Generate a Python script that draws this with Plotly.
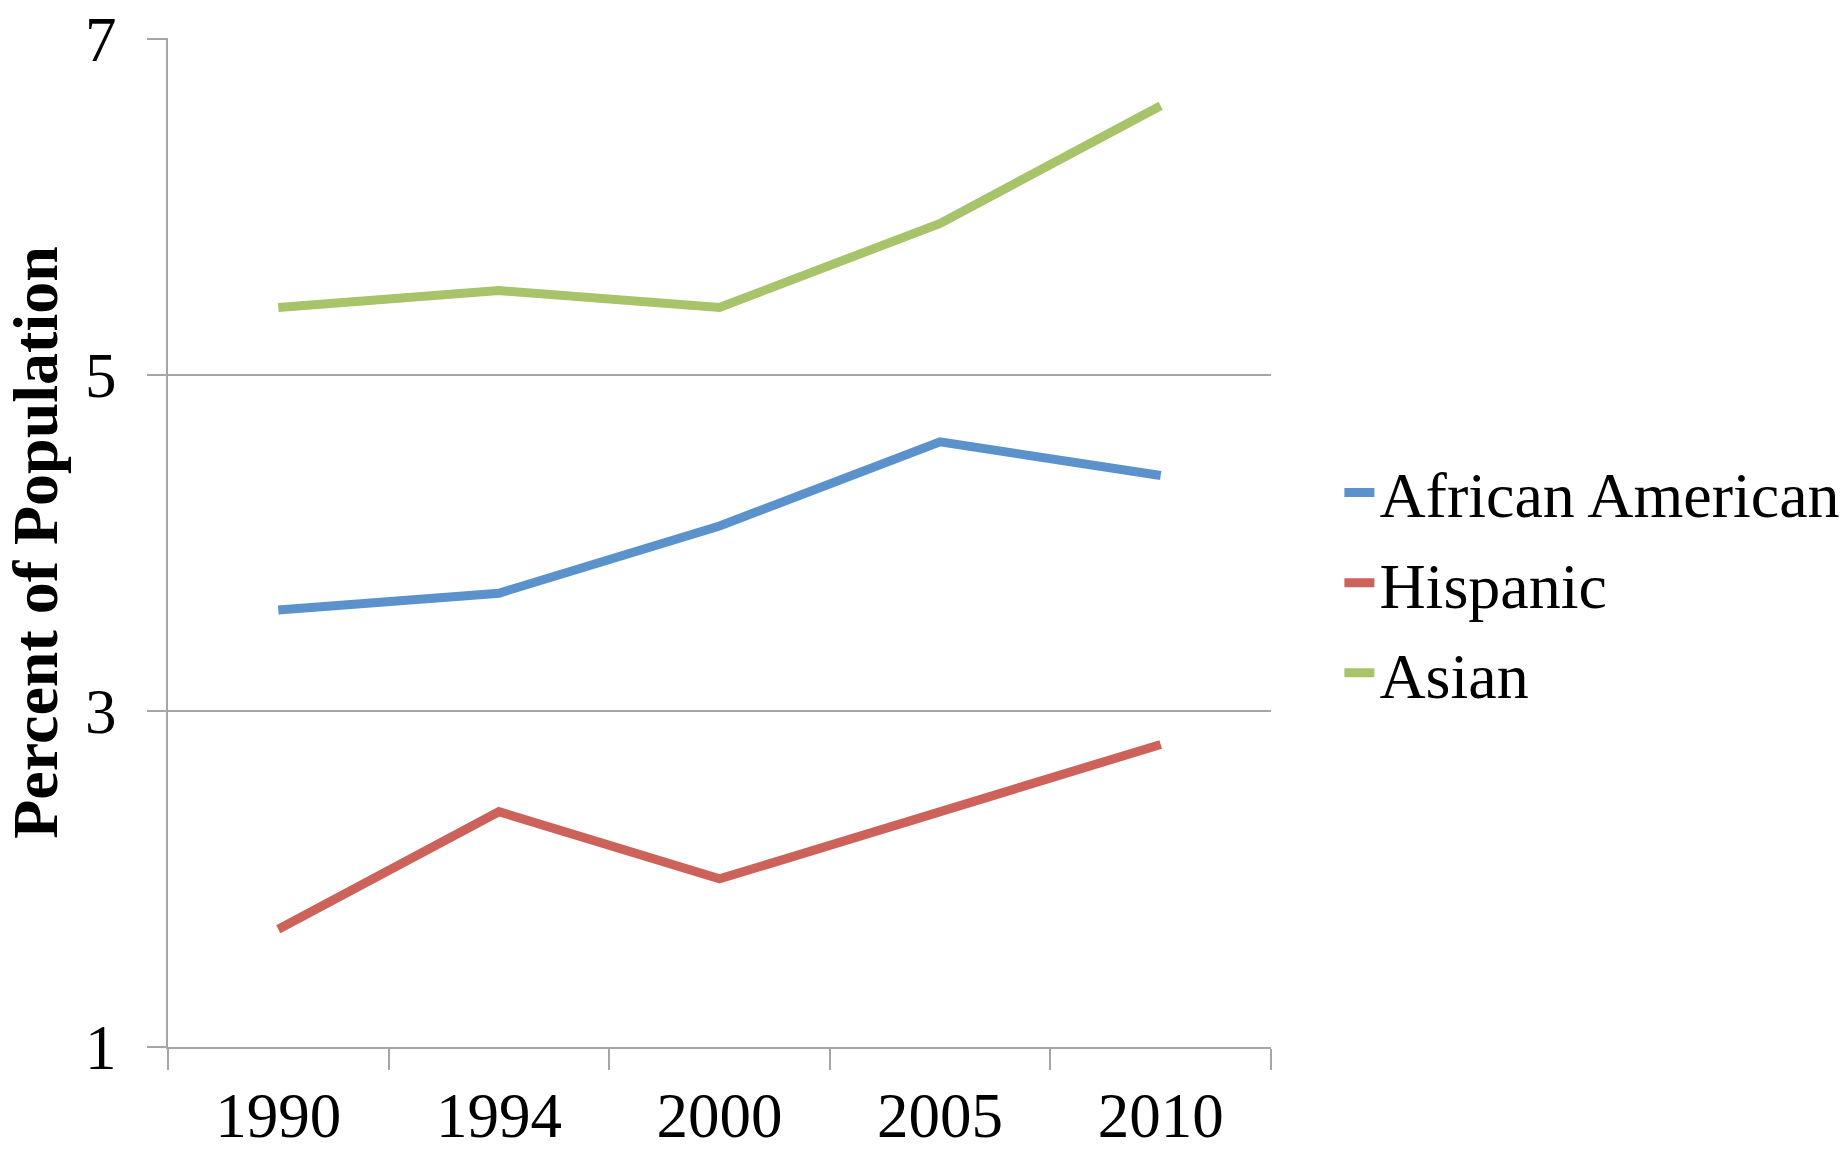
import plotly.graph_objects as go

years = ["1990", "1994", "2000", "2005", "2010"]
african_american = [3.6, 3.7, 4.1, 4.6, 4.4]
hispanic = [1.7, 2.4, 2.0, 2.4, 2.8]
asian = [5.4, 5.5, 5.4, 5.9, 6.6]

series_names = ["African American", "Hispanic", "Asian"]
series_colors = ["#5B92CB", "#CD625B", "#A8C46A"]

FONT = "Liberation Serif, Times New Roman, serif"
GRID = "#A6A6A6"

fig = go.Figure()
for name, vals, col in zip(series_names, [african_american, hispanic, asian], series_colors):
    fig.add_trace(go.Scatter(x=years, y=vals, name=name, mode="lines",
                             legendgroup=name,
                             line=dict(color=col, width=9)))

fig.update_layout(
    width=1845, height=1155,
    margin=dict(l=168, r=574, t=38, b=108, autoexpand=False),
    paper_bgcolor="white", plot_bgcolor="white",
    font=dict(family=FONT, size=62, color="black"),
    showlegend=True,
    legend=dict(x=1.062, xanchor="left", y=0.46, yanchor="middle",
                font=dict(family=FONT, size=64, color="black"),
                bgcolor="rgba(0,0,0,0)", itemwidth=30, tracegroupgap=4),
    xaxis=dict(type="category", tickson="boundaries", ticks="outside", ticklen=21,
               tickcolor=GRID, tickwidth=2, showline=True, linecolor=GRID,
               linewidth=2, showgrid=False, ticklabelstandoff=12, automargin=False,
               tickfont=dict(family=FONT, size=63), range=[-0.5, 4.5]),
    yaxis=dict(range=[1, 7.003], tickvals=[1, 3, 5, 7], ticks="outside", ticklen=19,
               tickcolor=GRID, tickwidth=2, showline=True, linecolor=GRID,
               linewidth=2, showgrid=True, gridcolor=GRID, gridwidth=2,
               zeroline=False, ticklabelstandoff=18, automargin=False,
               ticklabeloverflow="allow",
               tickfont=dict(family=FONT, size=63),
               title=dict(text="<b>Percent of Population</b>", standoff=17,
                          font=dict(family=FONT, size=64))),
)

fig.write_html("out.html", config={"displayModeBar": False},
               post_script="document.body.style.margin='0';document.body.style.overflow='hidden';")
